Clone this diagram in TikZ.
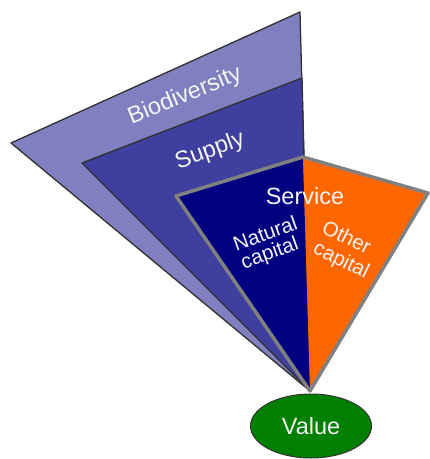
\documentclass[tikz,border=0pt]{standalone}
\usepackage{fontspec}
\setmainfont{Liberation Sans}
\usetikzlibrary{shapes.geometric}
\definecolor{biocol}{HTML}{8080C0}
\definecolor{supcol}{HTML}{3F3F9F}
\definecolor{natcol}{HTML}{000080}
\definecolor{othcol}{HTML}{FF6600}
\definecolor{valcol}{HTML}{007F00}
\definecolor{edgecol}{HTML}{303030}
\definecolor{servedge}{HTML}{808080}
\definecolor{txtcol}{HTML}{F4F4F4}
\begin{document}
\begin{tikzpicture}[x=1pt,y=-1pt,
  layer/.style={draw=edgecol,line width=1.3pt,line join=round},
  lbl/.style={text=txtcol,font=\fontsize{23.5}{26}\selectfont,inner sep=0pt},
  sublbl/.style={text=txtcol,font=\fontsize{20.5}{20}\selectfont,inner sep=0pt}]
\useasboundingbox (0,0) rectangle (430,459);
% corner coordinates
\coordinate (bioT) at (300,12);
\coordinate (bioL) at (11,143);
\coordinate (apex) at (310,391);
\coordinate (supT) at (302,78);
\coordinate (supL) at (82,163);
\coordinate (serT) at (303,157);
\coordinate (serL) at (176,196);
\coordinate (serR) at (428,193);
% layers
\fill[fill=biocol] (bioT) -- (bioL) -- (apex) -- cycle;
\draw[layer] (bioT) -- (bioL) -- (apex) -- cycle;
\fill[fill=supcol] (supT) -- (supL) -- (apex) -- cycle;
\draw[layer] (supT) -- (supL) -- (apex) -- cycle;
\fill[natcol] (serT) -- (serL) -- (apex) -- cycle;
\fill[othcol] (serT) -- (serR) -- (apex) -- cycle;
\draw[servedge,line width=3.5pt,line join=round] (serT) -- (serR) -- (apex) -- (serL) -- cycle;
% labels
\node[lbl,rotate=22] (bio) at (185,96) {Biodiversity};
\node[lbl,rotate=20] (sup) at (210,151) {Supply};
\node[lbl] (ser) at (305,196) {Service};
\node[sublbl,rotate=20] (nat1) at (265,233) {Natural};
\node[sublbl,rotate=20] (nat2) at (270,254) {capital};
\node[sublbl,rotate=-26] (oth1) at (347,237) {Other};
\node[sublbl,rotate=-26] (oth2) at (341,261) {capital};
% value
\node[ellipse,draw=black!80,line width=1pt,fill=valcol,minimum width=121pt,minimum height=64pt,
      text=txtcol,font=\fontsize{23.5}{26}\selectfont,inner sep=0pt] (val) at (311,426) {Value};
\end{tikzpicture}
\end{document}
